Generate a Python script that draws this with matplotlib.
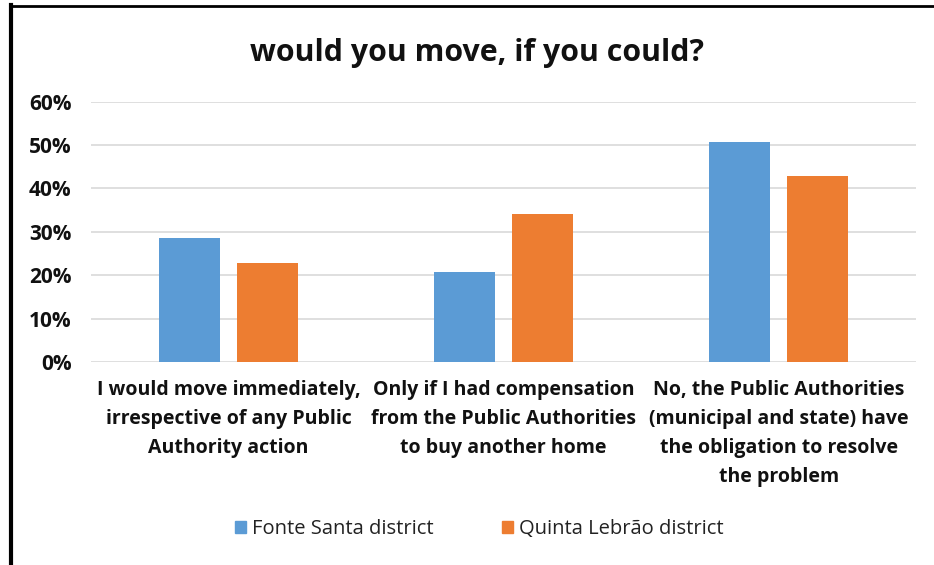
import matplotlib
matplotlib.use("Agg")
import matplotlib.pyplot as plt
from matplotlib.lines import Line2D
from matplotlib.patches import Patch
import numpy as np

plt.rcParams['font.family'] = ['Open Sans', 'DejaVu Sans']

categories = ['I would move immediately,\nirrespective of any Public\nAuthority action',
              'Only if I had compensation\nfrom the Public Authorities\nto buy another home',
              'No, the Public Authorities\n(municipal and state) have\nthe obligation to resolve\nthe problem']
series_names = ['Fonte Santa district', 'Quinta Lebr\u00e3o district']
fonte_santa = [0.285, 0.207, 0.506]
quinta_lebrao = [0.228, 0.342, 0.428]
yticks = [0.0, 0.1, 0.2, 0.3, 0.4, 0.5, 0.6]
ytick_labels = ['0%', '10%', '20%', '30%', '40%', '50%', '60%']

blue = '#5B9BD5'
orange = '#ED7D31'

fig = plt.figure(figsize=(9.34, 5.65), dpi=100)
ax = fig.add_axes([0.0974, 0.3593, 0.8836, 0.4607])

ind = np.arange(len(categories))
width = 0.222
offset = 0.141
ax.bar(ind - offset, fonte_santa, width, color=blue, zorder=3)
ax.bar(ind + offset, quinta_lebrao, width, color=orange, zorder=3)

ax.set_xlim(-0.5, 2.5)
ax.set_ylim(0.0, 0.6)
ax.set_yticks(yticks)
ax.set_yticklabels(ytick_labels, fontsize=15, fontweight='bold')
ax.set_xticks(ind)
ax.set_xticklabels(categories, fontsize=14, fontweight='bold', linespacing=1.6)
ax.tick_params(axis='both', length=0, colors='#111111')
ax.tick_params(axis='y', pad=14)
ax.tick_params(axis='x', pad=13)
ax.grid(axis='y', color='#D9D9D9', linewidth=1.2, zorder=0)
for s in ax.spines.values():
    s.set_visible(False)

fig.text(0.511, 0.906, 'would you move, if you could?', ha='center', va='center',
         fontsize=21.8, fontweight='bold', color='#111111')

handles = [Patch(color=blue), Patch(color=orange)]
fig.legend(handles, series_names, loc='center', bbox_to_anchor=(0.513, 0.064),
           ncol=2, frameon=False, fontsize=14.5, handlelength=0.55, handleheight=0.55,
           handletextpad=0.3, columnspacing=3.4, labelcolor='#222222')

# frame lines on the left and top edges
fig.add_artist(Line2D([11 / 934, 11 / 934], [0, 1 - 5 / 565], color='black',
                      linewidth=3, transform=fig.transFigure))
fig.add_artist(Line2D([10 / 934, 1], [1 - 6 / 565, 1 - 6 / 565], color='black',
                      linewidth=2, transform=fig.transFigure))

fig.savefig('out.png', dpi=100)
